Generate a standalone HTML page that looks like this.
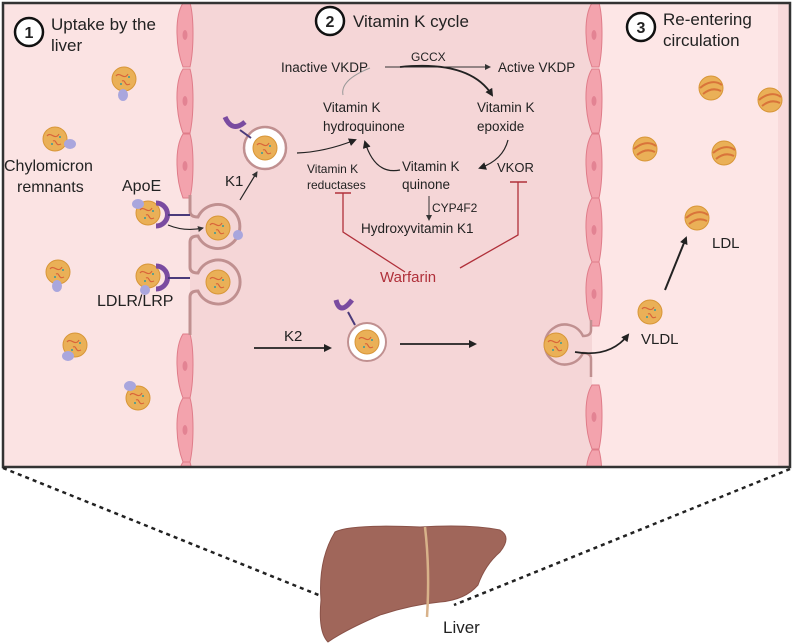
<!DOCTYPE html>
<html><head><meta charset="utf-8"><style>
html,body{margin:0;padding:0;background:#fff;}
svg{display:block;font-family:"Liberation Sans",sans-serif;}
</style></head><body>
<svg width="797" height="643" viewBox="0 0 797 643" xmlns="http://www.w3.org/2000/svg">
<defs>
<marker id="ah" markerWidth="8" markerHeight="8" refX="6" refY="4" orient="auto" markerUnits="userSpaceOnUse"><path d="M0,0 L8,4 L0,8 Z" fill="#222"/></marker>
<marker id="ahs" markerWidth="6" markerHeight="6" refX="5" refY="3" orient="auto" markerUnits="userSpaceOnUse"><path d="M0,0 L6,3 L0,6 Z" fill="#333"/></marker>
<clipPath id="box"><rect x="3" y="3" width="787" height="464"/></clipPath>
<g id="p"><circle r="12" fill="#eab057" stroke="#d89638" stroke-width="1"/><path d="M-8,-3 C-4,-8 0,2 4,-5 M-2,2 C2,0 0,8 6,5" stroke="#d9653a" stroke-width="1.2" fill="none"/><circle cx="-3" cy="5" r="1" fill="#3a9a9a"/><circle cx="5" cy="-2" r="1" fill="#3a9a9a"/></g>
<g id="q"><circle r="12" fill="#eab057" stroke="#d89638" stroke-width="1"/><path d="M-11,0 C-4,-6 4,-8 11,-3 M-8,6 C-2,1 4,0 10,3" stroke="#d9743a" stroke-width="2" fill="none"/></g>
<g id="cell"><path d="M-3,0 C-12,14 -10,46 -3,64 L4,64 C8,46 8,14 4,0 Z" fill="#f3a3ad" stroke="#df7c89" stroke-width="1"/><ellipse cx="-1" cy="32" rx="2.5" ry="5" fill="#e38393"/></g>
</defs>
<!-- panels -->
<rect x="3" y="3" width="187" height="464" fill="#fbe3e3"/>
<rect x="190" y="3" width="402" height="464" fill="#f5d6d7"/>
<rect x="592" y="3" width="198" height="464" fill="#fde6e6"/>
<rect x="778" y="3" width="12" height="464" fill="#f8dadb"/>
<g clip-path="url(#box)">
<!-- left membrane cells -->
<use href="#cell" x="186" y="3"/><use href="#cell" x="186" y="69"/><use href="#cell" x="186" y="134"/>
<use href="#cell" x="186" y="334"/><use href="#cell" x="186" y="398"/><use href="#cell" x="186" y="462"/>
<path d="M190,195 V211 Q190,217 198,217 A22,22 0 1,1 198,236 Q190,236 190,242 V267 Q190,273 198,273 A22,22 0 1,1 198,291 Q190,291 190,297 V335" fill="none" stroke="#c09090" stroke-width="3"/>
<use href="#p" x="218" y="228"/><circle cx="238" cy="235" r="5" fill="#a9a6dd"/>
<use href="#p" x="218" y="282"/>
<!-- right membrane cells -->
<use href="#cell" x="595" y="3"/><use href="#cell" x="595" y="69"/><use href="#cell" x="595" y="134"/><use href="#cell" x="595" y="198"/><use href="#cell" x="595" y="262"/><use href="#cell" x="595" y="385"/><use href="#cell" x="595" y="450"/>
<path d="M591,320 V330 Q591,336 583,336 A20,20 0 1,0 583,353 Q591,353 591,359 V377" fill="none" stroke="#c09090" stroke-width="2.5"/>
</g>
<rect x="3" y="3" width="787" height="464" fill="none" stroke="#333" stroke-width="2.5"/>
<use href="#p" x="556" y="345"/>
<!-- left particles -->
<use href="#p" x="124" y="79"/><ellipse cx="123" cy="95" rx="5" ry="6" fill="#a9a6dd"/>
<use href="#p" x="55" y="139"/><ellipse cx="70" cy="144" rx="6" ry="5" fill="#a9a6dd"/>
<use href="#p" x="58" y="272"/><ellipse cx="57" cy="286" rx="5" ry="6" fill="#a9a6dd"/>
<use href="#p" x="148" y="213"/><ellipse cx="138" cy="204" rx="6" ry="5" fill="#a9a6dd"/>
<path d="M156,203 A11,11 0 0,1 156,226" fill="none" stroke="#7a4ba0" stroke-width="5"/><line x1="168" y1="215" x2="190" y2="215" stroke="#4a3a7a" stroke-width="2"/>
<use href="#p" x="148" y="276"/><ellipse cx="145" cy="290" rx="5" ry="5" fill="#a9a6dd"/>
<path d="M156,266 A11,11 0 0,1 156,289" fill="none" stroke="#7a4ba0" stroke-width="5"/><line x1="168" y1="278" x2="190" y2="278" stroke="#4a3a7a" stroke-width="2"/>
<use href="#p" x="75" y="345"/><ellipse cx="68" cy="356" rx="6" ry="5" fill="#a9a6dd"/>
<use href="#p" x="138" y="398"/><ellipse cx="130" cy="386" rx="6" ry="5" fill="#a9a6dd"/>
<path d="M168,225 Q185,232 203,228" fill="none" stroke="#222" stroke-width="1.2" marker-end="url(#ahs)"/>
<!-- K1 vesicle -->
<circle cx="265" cy="148" r="21" fill="#fff" stroke="#c09090" stroke-width="2.5"/><use href="#p" x="265" y="148"/>
<line x1="251" y1="138" x2="240" y2="130" stroke="#4a3a7a" stroke-width="2"/><path d="M225,117 Q232,133 245,122" fill="none" stroke="#7a4ba0" stroke-width="5"/>
<line x1="240" y1="200" x2="257" y2="172" stroke="#222" stroke-width="1.2" marker-end="url(#ahs)"/>
<!-- K2 vesicle -->
<circle cx="367" cy="342" r="19" fill="#fff" stroke="#c09090" stroke-width="2"/><use href="#p" x="367" y="342"/>
<line x1="355" y1="325" x2="348" y2="312" stroke="#4a3a7a" stroke-width="2"/><path d="M336,300 Q340,316 352,300" fill="none" stroke="#7a4ba0" stroke-width="5"/>
<line x1="254" y1="348" x2="330" y2="348" stroke="#222" stroke-width="1.8" marker-end="url(#ah)"/>
<line x1="400" y1="344" x2="475" y2="344" stroke="#222" stroke-width="1.8" marker-end="url(#ah)"/>
<path d="M575,352 Q610,358 628,335" fill="none" stroke="#222" stroke-width="1.8" marker-end="url(#ah)"/>
<!-- right particles -->
<use href="#q" x="711" y="88"/><use href="#q" x="770" y="100"/><use href="#q" x="645" y="149"/><use href="#q" x="724" y="153"/><use href="#q" x="697" y="218"/><use href="#p" x="650" y="312"/>
<line x1="665" y1="290" x2="686" y2="238" stroke="#222" stroke-width="2" marker-end="url(#ah)"/>
<!-- vitamin K cycle arrows -->
<line x1="385" y1="67" x2="490" y2="67" stroke="#333" stroke-width="1" marker-end="url(#ahs)"/>
<path d="M400,67 Q470,60 492,95" fill="none" stroke="#222" stroke-width="1.8" marker-end="url(#ah)"/>
<path d="M370,68 Q340,80 343,95" fill="none" stroke="#999" stroke-width="1"/>
<path d="M297,153 Q325,152 355,140" fill="none" stroke="#222" stroke-width="1.2" marker-end="url(#ah)"/>
<path d="M400,170 Q375,175 365,142" fill="none" stroke="#222" stroke-width="1.2" marker-end="url(#ah)"/>
<path d="M508,140 Q503,160 480,168" fill="none" stroke="#222" stroke-width="1.2" marker-end="url(#ah)"/>
<line x1="429" y1="196" x2="429" y2="220" stroke="#333" stroke-width="1" marker-end="url(#ahs)"/>
<!-- warfarin inhibition -->
<path d="M343,193 V232 L405,272 M460,268 L518,235 V182" fill="none" stroke="#b0303a" stroke-width="1.3"/>
<line x1="335" y1="193" x2="351" y2="193" stroke="#b0303a" stroke-width="1.5"/>
<line x1="510" y1="182" x2="527" y2="182" stroke="#b0303a" stroke-width="1.5"/>
<!-- texts -->
<g fill="#222">
<circle cx="29" cy="32" r="14" fill="#fff" stroke="#111" stroke-width="2.5"/><text x="29" y="38" font-size="16" font-weight="bold" text-anchor="middle">1</text>
<text x="51" y="30" font-size="17">Uptake by the</text><text x="51" y="51" font-size="17">liver</text>
<circle cx="330" cy="21" r="14" fill="#fff" stroke="#111" stroke-width="2.5"/><text x="330" y="27" font-size="16" font-weight="bold" text-anchor="middle">2</text>
<text x="353" y="27" font-size="17">Vitamin K cycle</text>
<circle cx="641" cy="27" r="14" fill="#fff" stroke="#111" stroke-width="2.5"/><text x="641" y="33" font-size="16" font-weight="bold" text-anchor="middle">3</text>
<text x="663" y="25" font-size="17">Re-entering</text><text x="663" y="46" font-size="17">circulation</text>
<text x="4" y="171" font-size="16">Chylomicron</text><text x="17" y="192" font-size="16">remnants</text>
<text x="122" y="191" font-size="16">ApoE</text>
<text x="97" y="306" font-size="16">LDLR/LRP</text>
<text x="225" y="186" font-size="15">K1</text>
<text x="284" y="341" font-size="15">K2</text>
<text x="281" y="72" font-size="13.5">Inactive VKDP</text>
<text x="411" y="61" font-size="12">GCCX</text>
<text x="498" y="72" font-size="13.5">Active VKDP</text>
<text x="323" y="112" font-size="13.5">Vitamin K</text><text x="323" y="131" font-size="13.5">hydroquinone</text>
<text x="477" y="112" font-size="13.5">Vitamin K</text><text x="477" y="131" font-size="13.5">epoxide</text>
<text x="402" y="171" font-size="13.5">Vitamin K</text><text x="402" y="189" font-size="13.5">quinone</text>
<text x="497" y="172" font-size="13">VKOR</text>
<text x="307" y="173" font-size="12">Vitamin K</text><text x="307" y="189" font-size="12">reductases</text>
<text x="432" y="212" font-size="12">CYP4F2</text>
<text x="361" y="233" font-size="13.5">Hydroxyvitamin K1</text>
<text x="380" y="282" font-size="15" fill="#b0303a">Warfarin</text>
<text x="712" y="248" font-size="15">LDL</text>
<text x="641" y="344" font-size="15">VLDL</text>
<text x="443" y="633" font-size="17">Liver</text>
</g>
<!-- zoom lines -->
<line x1="3" y1="468" x2="321" y2="596" stroke="#222" stroke-width="2.5" stroke-dasharray="4,4"/>
<line x1="790" y1="469" x2="454" y2="605" stroke="#222" stroke-width="2.5" stroke-dasharray="4,4"/>
<!-- liver -->
<path d="M335,532 Q350,524 420,527 Q470,524 500,530 Q512,537 500,552 Q485,565 478,585 Q465,600 440,602 Q410,605 380,615 Q345,630 328,642 Q318,632 321,600 Q318,560 335,532 Z" fill="#a0665a" stroke="#8a5248" stroke-width="1"/>
<path d="M425,527 Q430,570 427,617" fill="none" stroke="#d8b28a" stroke-width="2.5"/>
</svg>
</body></html>
